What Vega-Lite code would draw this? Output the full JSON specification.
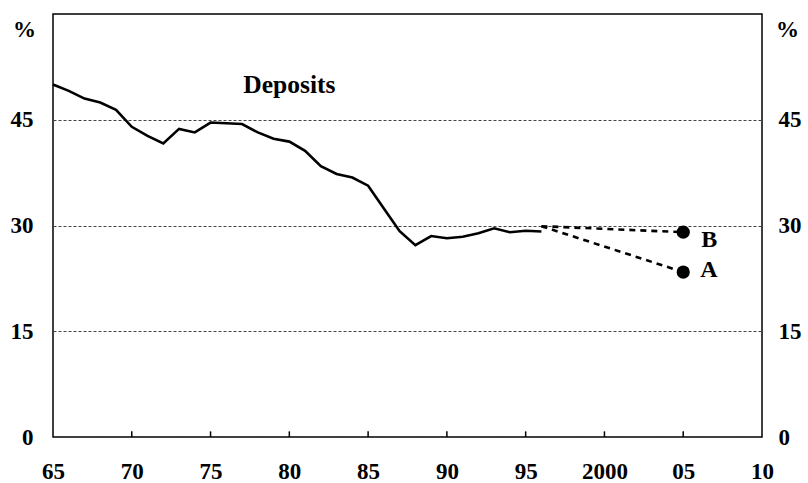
{
  "$schema": "https://vega.github.io/schema/vega-lite/v6.json",
  "width": 709,
  "height": 423,
  "autosize": {"type": "none"},
  "padding": {"left": 53, "top": 14, "right": 46, "bottom": 46},
  "background": "white",
  "config": {
    "view": {"stroke": "black", "strokeWidth": 1.5},
    "axisX": {"labelFontSize": 23, "labelFont": "Liberation Serif", "labelFontWeight": "bold", "labelColor": "black"},
    "axisY": {"labelFontSize": 23, "labelFont": "Liberation Serif", "labelFontWeight": "bold", "labelColor": "black", "titleFontSize": 23, "titleFont": "Liberation Serif", "titleFontWeight": "bold", "titleColor": "black"}
  },
  "datasets": {
    "deposits": [
      {"year": 1965, "value": 50.0},
      {"year": 1966, "value": 49.1},
      {"year": 1967, "value": 48.0},
      {"year": 1968, "value": 47.45},
      {"year": 1969, "value": 46.4},
      {"year": 1970, "value": 44.0},
      {"year": 1971, "value": 42.7},
      {"year": 1972, "value": 41.65},
      {"year": 1973, "value": 43.7},
      {"year": 1974, "value": 43.2},
      {"year": 1975, "value": 44.6},
      {"year": 1976, "value": 44.5},
      {"year": 1977, "value": 44.4},
      {"year": 1978, "value": 43.2},
      {"year": 1979, "value": 42.3},
      {"year": 1980, "value": 41.9},
      {"year": 1981, "value": 40.6},
      {"year": 1982, "value": 38.4},
      {"year": 1983, "value": 37.3},
      {"year": 1984, "value": 36.8},
      {"year": 1985, "value": 35.65},
      {"year": 1986, "value": 32.4},
      {"year": 1987, "value": 29.2},
      {"year": 1988, "value": 27.2},
      {"year": 1989, "value": 28.5},
      {"year": 1990, "value": 28.2},
      {"year": 1991, "value": 28.4},
      {"year": 1992, "value": 28.9},
      {"year": 1993, "value": 29.6},
      {"year": 1994, "value": 29.05},
      {"year": 1995, "value": 29.25},
      {"year": 1996, "value": 29.15}
    ],
    "projection": [
      {"year": 1996, "value": 29.9, "scenario": "A"},
      {"year": 2005, "value": 23.4, "scenario": "A"},
      {"year": 1996, "value": 29.9, "scenario": "B"},
      {"year": 2005, "value": 29.05, "scenario": "B"}
    ],
    "endpoints": [
      {"year": 2005, "value": 23.4, "scenario": "A"},
      {"year": 2005, "value": 29.05, "scenario": "B"}
    ],
    "tickyears": [
      {"year": 1970, "lo": 0, "hi": 0.8}, {"year": 1975, "lo": 0, "hi": 0.8},
      {"year": 1980, "lo": 0, "hi": 0.8}, {"year": 1985, "lo": 0, "hi": 0.8},
      {"year": 1990, "lo": 0, "hi": 0.8}, {"year": 1995, "lo": 0, "hi": 0.8},
      {"year": 2000, "lo": 0, "hi": 0.8}, {"year": 2005, "lo": 0, "hi": 0.8}
    ],
    "labels": [
      {"year": 1980, "value": 48.8, "text": "Deposits"}
    ]
  },
  "resolve": {"axis": {"y": "independent"}},
  "layer": [
    {
      "data": {"name": "deposits"},
      "mark": {"type": "line", "color": "black", "strokeWidth": 2.6},
      "encoding": {
        "x": {
          "field": "year", "type": "quantitative",
          "scale": {"domain": [1965, 2010], "nice": false, "zero": false},
          "axis": {
            "title": null,
            "domain": false,
            "values": [1965, 1970, 1975, 1980, 1985, 1990, 1995, 2000, 2005, 2010],
            "labelExpr": "datum.value == 2000 ? '2000' : substring(toString(datum.value), 2)",
            "grid": false,
            "ticks": false,
            "labelFont": "Liberation Serif",
            "labelFontWeight": "bold",
            "labelFontSize": 23,
            "labelColor": "black",
            "labelPadding": 41,
            "labelBaseline": "alphabetic",
            "labelFlush": false,
            "labelOverlap": false
          }
        },
        "y": {
          "field": "value", "type": "quantitative",
          "scale": {"domain": [0, 60], "nice": false},
          "axis": {
            "orient": "left",
            "domain": false,
            "title": "%",
            "titleAngle": 0,
            "titleX": -29,
            "titleY": 15,
            "titleAlign": "center",
            "titleBaseline": "middle",
            "values": [0, 15, 30, 45],
            "ticks": false,
            "labelPadding": 20,
            "grid": true,
            "gridColor": "#444444",
            "gridDash": [3, 2],
            "gridWidth": 1
          }
        }
      }
    },
    {
      "data": {"name": "tickyears"},
      "mark": {"type": "rule", "color": "black", "strokeWidth": 1.5},
      "encoding": {
        "x": {"field": "year", "type": "quantitative"},
        "y": {"field": "lo", "type": "quantitative", "axis": null},
        "y2": {"field": "hi"}
      }
    },
    {
      "data": {"name": "projection"},
      "mark": {"type": "line", "color": "black", "strokeWidth": 2.6, "strokeDash": [6, 5]},
      "encoding": {
        "x": {"field": "year", "type": "quantitative"},
        "y": {
          "field": "value", "type": "quantitative",
          "axis": {
            "orient": "right",
            "domain": false,
            "title": "%",
            "titleAngle": 0,
            "titleX": 25,
            "titleY": 15,
            "titleAlign": "center",
            "titleBaseline": "middle",
            "values": [0, 15, 30, 45],
            "ticks": false,
            "labelPadding": 16,
            "grid": false
          }
        },
        "detail": {"field": "scenario"}
      }
    },
    {
      "data": {"name": "endpoints"},
      "mark": {"type": "point", "shape": "circle", "filled": true, "color": "black", "opacity": 1, "size": 175},
      "encoding": {
        "x": {"field": "year", "type": "quantitative"},
        "y": {"field": "value", "type": "quantitative", "axis": null}
      }
    },
    {
      "data": {"name": "endpoints"},
      "transform": [{"filter": "datum.scenario == 'B'"}],
      "mark": {"type": "text", "align": "left", "baseline": "middle", "dx": 18, "dy": 8, "font": "Liberation Serif", "fontWeight": "bold", "fontSize": 24, "color": "black"},
      "encoding": {
        "x": {"field": "year", "type": "quantitative"},
        "y": {"field": "value", "type": "quantitative", "axis": null},
        "text": {"field": "scenario"}
      }
    },
    {
      "data": {"name": "endpoints"},
      "transform": [{"filter": "datum.scenario == 'A'"}],
      "mark": {"type": "text", "align": "left", "baseline": "middle", "dx": 17, "dy": -2, "font": "Liberation Serif", "fontWeight": "bold", "fontSize": 24, "color": "black"},
      "encoding": {
        "x": {"field": "year", "type": "quantitative"},
        "y": {"field": "value", "type": "quantitative", "axis": null},
        "text": {"field": "scenario"}
      }
    },
    {
      "data": {"name": "labels"},
      "mark": {"type": "text", "align": "center", "baseline": "alphabetic", "font": "Liberation Serif", "fontWeight": "bold", "fontSize": 25.5, "color": "black"},
      "encoding": {
        "x": {"field": "year", "type": "quantitative"},
        "y": {"field": "value", "type": "quantitative", "axis": null},
        "text": {"field": "text"}
      }
    }
  ]
}
